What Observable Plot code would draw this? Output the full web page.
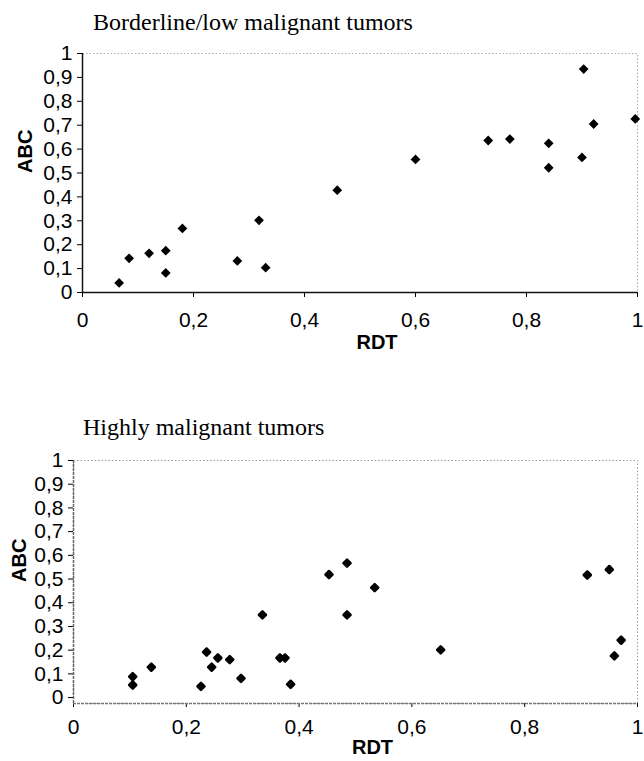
<!DOCTYPE html>
<html>
<head>
<meta charset="utf-8">
<script src="https://cdn.jsdelivr.net/npm/d3@7"></script>
<script src="https://cdn.jsdelivr.net/npm/@observablehq/plot@0.6"></script>
<style>
  html, body { margin: 0; padding: 0; background: #fff; }
  #wrap { position: relative; width: 644px; height: 761px; overflow: hidden; }
  .title { position: absolute; font-family: "Liberation Serif", "Times New Roman", serif; font-size: 24px; line-height: 24px; color: #000; white-space: nowrap; }
  .chart { position: absolute; left: 0; }
</style>
</head>
<body>
<div id="wrap">
  <div class="title" id="t1" style="left:93px; top:10px;"></div>
  <div class="chart" id="c1" style="top:40px;"></div>
  <div class="title" id="t2" style="left:83px; top:415px;"></div>
  <div class="chart" id="c2" style="top:440px;"></div>
</div>
<script>
// ---- Data ----
const titleLow = "Borderline/low malignant tumors";
const titleHigh = "Highly malignant tumors";
const xLabel = "RDT";
const yLabel = "ABC";

const xTicks = [0, 0.2, 0.4, 0.6, 0.8, 1];
const yTicks = [0, 0.1, 0.2, 0.3, 0.4, 0.5, 0.6, 0.7, 0.8, 0.9, 1];

// Borderline / low malignant tumors
const lowRDT = [0.066, 0.084, 0.12, 0.15, 0.15, 0.18, 0.279, 0.318, 0.33, 0.459, 0.6, 0.731, 0.77, 0.84, 0.84, 0.9, 0.903, 0.921, 0.996];
const lowABC = [0.04, 0.143, 0.164, 0.175, 0.082, 0.268, 0.132, 0.302, 0.104, 0.428, 0.557, 0.636, 0.642, 0.624, 0.522, 0.565, 0.935, 0.705, 0.726];

// Highly malignant tumors
const highRDT = [0.105, 0.105, 0.138, 0.226, 0.236, 0.245, 0.256, 0.277, 0.297, 0.335, 0.366, 0.375, 0.385, 0.453, 0.485, 0.485, 0.534, 0.651, 0.911, 0.95, 0.959, 0.971];
const highABC = [0.088, 0.053, 0.128, 0.047, 0.192, 0.128, 0.167, 0.16, 0.081, 0.349, 0.167, 0.167, 0.056, 0.519, 0.567, 0.349, 0.464, 0.201, 0.517, 0.54, 0.176, 0.242];

// ---- Build ----
const lowData = lowRDT.map((x, i) => ({x, y: lowABC[i]}));
const highData = highRDT.map((x, i) => ({x, y: highABC[i]}));
const fmt = d => String(d).replace(".", ",");

document.getElementById("t1").textContent = titleLow;
document.getElementById("t2").textContent = titleHigh;

const baseStyle = {fontFamily: "'Liberation Sans', Arial, sans-serif", fontSize: "21px", color: "#000", background: "#fff", overflow: "visible"};
const tickFont = 21;

const chart1 = Plot.plot({
  width: 644, height: 320,
  marginTop: 13, marginBottom: 68, marginLeft: 82, marginRight: 7,
  style: baseStyle,
  x: {domain: [0, 1]},
  y: {domain: [0, 1]},
  marks: [
    Plot.frame({stroke: "#aaa", strokeDasharray: "1.5,2"}),
    Plot.axisX({ticks: xTicks, tickFormat: fmt, tickSize: 5, tickPadding: 15, label: null, fontSize: tickFont}),
    Plot.axisY({ticks: yTicks, tickFormat: fmt, tickSize: 5, tickPadding: 5, label: null, fontSize: tickFont}),
    Plot.ruleX([0], {stroke: "#111", strokeWidth: 1.5}),
    Plot.ruleY([0], {stroke: "#111", strokeWidth: 1.5}),
    Plot.dot(lowData, {x: "x", y: "y", symbol: "diamond2", r: 4.4, fill: "#000", stroke: "none"}),
    Plot.text([xLabel], {text: d => d, frameAnchor: "bottom", dx: 17, dy: 56, fontWeight: "bold", fontSize: 20, fill: "#000"}),
    Plot.text([yLabel], {text: d => d, frameAnchor: "left", dx: -57, rotate: -90, fontWeight: "bold", fontSize: 20, fill: "#000"})
  ]
});
document.getElementById("c1").appendChild(chart1);

const chart2 = Plot.plot({
  width: 644, height: 321,
  marginTop: 20, marginBottom: 58, marginLeft: 73, marginRight: 7,
  style: baseStyle,
  x: {domain: [0, 1]},
  y: {domain: [-0.025, 1]},
  marks: [
    Plot.frame({stroke: "#999", strokeDasharray: "1.5,2"}),
    Plot.axisX({ticks: xTicks, tickFormat: fmt, tickSize: 4, tickPadding: 12, label: null, fontSize: tickFont}),
    Plot.axisY({ticks: yTicks, tickFormat: fmt, tickSize: 5, tickPadding: 5, label: null, fontSize: tickFont}),
    Plot.ruleX([0], {stroke: "#666", strokeWidth: 1.5, strokeDasharray: "3,1"}),
    Plot.ruleY([-0.025], {stroke: "#777", strokeWidth: 1.5, strokeDasharray: "3,1"}),
    Plot.dot(highData, {x: "x", y: "y", symbol: "diamond2", r: 3.2, fill: "#000", stroke: "#000", strokeWidth: 2.5, strokeLinejoin: "round"}),
    Plot.text([xLabel], {text: d => d, frameAnchor: "bottom", dx: 17, dy: 50, fontWeight: "bold", fontSize: 20, fill: "#000"}),
    Plot.text([yLabel], {text: d => d, frameAnchor: "left", dx: -54, rotate: -90, fontWeight: "bold", fontSize: 20, fill: "#000"})
  ]
});
document.getElementById("c2").appendChild(chart2);
</script>
</body>
</html>
